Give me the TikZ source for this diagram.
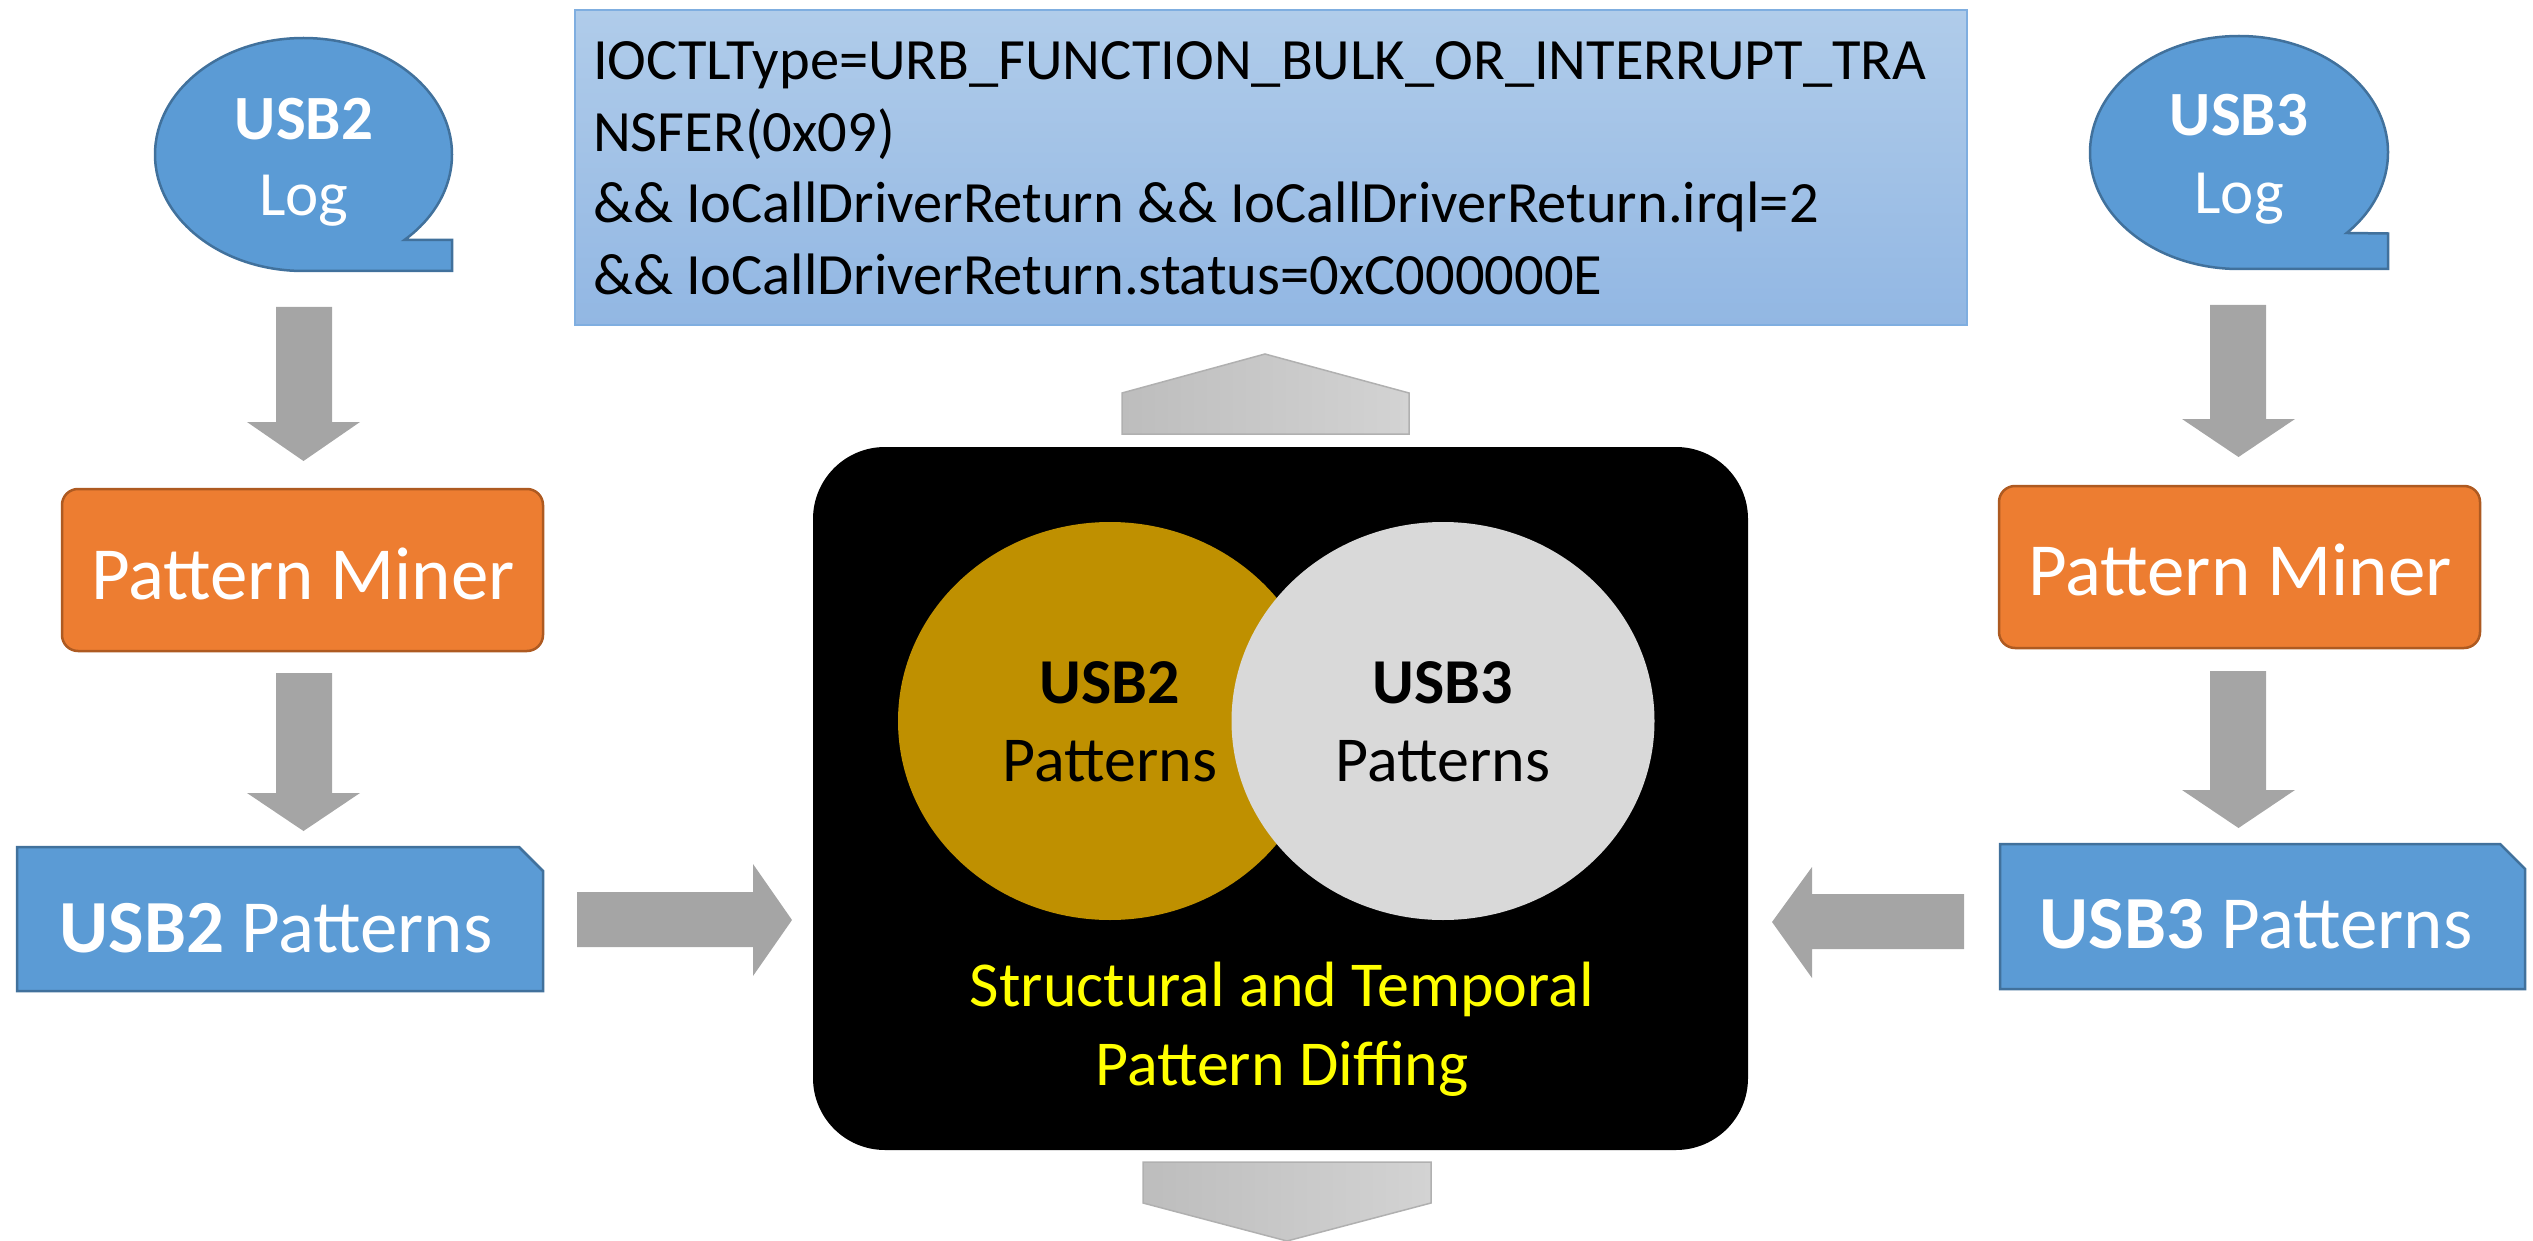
\documentclass[tikz,border=0pt]{standalone}
\usepackage{fontspec}
\setmainfont{Carlito}
\usetikzlibrary{shapes.geometric}
\definecolor{blueF}{HTML}{5B9BD5}
\definecolor{blueD}{HTML}{41719C}
\definecolor{orF}{HTML}{ED7D31}
\definecolor{orD}{HTML}{AE5A21}
\definecolor{arrG}{HTML}{A5A5A5}
\definecolor{goldF}{HTML}{BF9000}
\definecolor{lgF}{HTML}{D9D9D9}
\definecolor{ylw}{HTML}{FFFF00}
\definecolor{tbTop}{HTML}{B0CCEA}
\definecolor{tbBot}{HTML}{92B7E3}
\definecolor{tbLine}{HTML}{7FAEE0}
\definecolor{gaL}{HTML}{BDBDBD}
\definecolor{gaR}{HTML}{D3D3D3}
\definecolor{gaD}{HTML}{B0B0B0}
\begin{document}
\begin{tikzpicture}[x=1pt,y=-1pt,
  bubble/.style={fill=blueF,draw=blueD,line width=2.5pt},
  bluebox/.style={fill=blueF,draw=blueD,line width=2.5pt},
  minebox/.style={fill=orF,draw=orD,line width=2.5pt,rounded corners=16pt,
    minimum width=481pt,minimum height=162pt,inner sep=0pt},
  grayarrow/.style={fill=arrG},
  lightarrow/.style={left color=gaL,right color=gaR,draw=gaD,line width=1.5pt},
  txt/.style={inner sep=0pt,anchor=base},
  logfont/.style={font=\fontsize{63}{63}\selectfont},
  bigfont/.style={font=\fontsize{75}{75}\selectfont},
  vennfont/.style={font=\fontsize{64}{64}\selectfont},
  codefont/.style={font=\fontsize{58.5}{58.5}\selectfont},
  vennc/.style={ellipse,inner sep=0pt,minimum height=398pt}
]
\useasboundingbox (0,0) rectangle (2533,1241);

% ---------- bubbles ----------
\path[bubble] (303.5,271) arc[start angle=90,end angle=407.2,x radius=148.5,y radius=116.5]
  -- (452,240) -- (452,271) -- cycle;
\path[bubble] (2239,269) arc[start angle=90,end angle=403.7,x radius=149,y radius=116.5]
  -- (2388,233.5) -- (2388,269) -- cycle;
\node[txt,logfont,text=white] (l2a) at (304,140) {\textbf{USB2}};
\node[txt,logfont,text=white] (l2b) at (304,216) {Log};
\node[txt,logfont,text=white] (l3a) at (2239,136) {\textbf{USB3}};
\node[txt,logfont,text=white] (l3b) at (2239,214) {Log};

% ---------- vertical arrows ----------
\path[grayarrow] (276,307) -- (332,307) -- (332,422) -- (360,422) -- (303.5,461) -- (247,422) -- (276,422) -- cycle;
\path[grayarrow] (276,673) -- (332,673) -- (332,793) -- (360,793) -- (303.5,831) -- (247,793) -- (276,793) -- cycle;
\path[grayarrow] (2210,305) -- (2266,305) -- (2266,419) -- (2295,419) -- (2238.5,457) -- (2182,419) -- (2210,419) -- cycle;
\path[grayarrow] (2210,671) -- (2266,671) -- (2266,790) -- (2295,790) -- (2238.5,828) -- (2182,790) -- (2210,790) -- cycle;

% ---------- pattern miners ----------
\node[minebox] (pm2) at (302.5,570) {};
\node[minebox] (pm3) at (2239.5,567) {};
\node[txt,bigfont,text=white] (pm2t) at (303,599) {Pattern Miner};
\node[txt,bigfont,text=white] (pm3t) at (2240,595) {Pattern Miner};

% ---------- pattern documents ----------
\path[bluebox] (17,847) -- (519,847) -- (543,871) -- (543,991) -- (17,991) -- cycle;
\path[bluebox] (2000,844) -- (2500,844) -- (2525,869) -- (2525,989) -- (2000,989) -- cycle;
\node[txt,bigfont,text=white] (p2t) at (276,952) {\textbf{USB2} Patterns};
\node[txt,bigfont,text=white] (p3t) at (2256,948) {\textbf{USB3} Patterns};

% ---------- horizontal arrows ----------
\path[grayarrow] (577,892) -- (753,892) -- (753,864) -- (792,920) -- (753,976) -- (753,947) -- (577,947) -- cycle;
\path[grayarrow] (1964,894) -- (1812,894) -- (1812,867) -- (1772,922) -- (1812,978) -- (1812,949) -- (1964,949) -- cycle;

% ---------- central diffing box ----------
\node[fill=black,rounded corners=72pt,minimum width=935pt,minimum height=703pt,inner sep=0pt] (diff) at (1280.5,798.5) {};
\node[vennc,fill=goldF,minimum width=424pt] (v2) at (1110,721) {};
\node[vennc,fill=lgF,minimum width=423pt] (v3) at (1443,721) {};
\node[txt,vennfont] (v2a) at (1110,703) {\textbf{USB2}};
\node[txt,vennfont] (v2b) at (1110,781) {Patterns};
\node[txt,vennfont] (v3a) at (1443,703) {\textbf{USB3}};
\node[txt,vennfont] (v3b) at (1443,781) {Patterns};
\node[txt,vennfont,text=ylw] (d1) at (1282,1006) {Structural and Temporal};
\node[txt,vennfont,text=ylw] (d2) at (1282,1085) {Pattern Diffing};

% ---------- up / down arrows ----------
\path[lightarrow] (1122,434) -- (1122,393) -- (1265,354) -- (1409,393) -- (1409,434) -- cycle;
\path[lightarrow] (1143,1162) -- (1431,1162) -- (1431,1203) -- (1287,1241) -- (1143,1203) -- cycle;

% ---------- result text box ----------
\node[top color=tbTop,bottom color=tbBot,draw=tbLine,line width=2pt,minimum width=1392pt,minimum height=315pt,inner sep=0pt] (res) at (1271,167.5) {};
\node[txt,codefont,anchor=base west] (r1) at (593,80) {IOCTLType=URB\_FUNCTION\_BULK\_OR\_INTERRUPT\_TRA};
\node[txt,codefont,anchor=base west] (r2) at (593,152) {NSFER(0x09)};
\node[txt,codefont,anchor=base west] (r3) at (593,223) {\&\& IoCallDriverReturn \&\& IoCallDriverReturn.irql=2};
\node[txt,codefont,anchor=base west] (r4) at (593,295) {\&\& IoCallDriverReturn.status=0xC000000E};
\end{tikzpicture}
\end{document}
